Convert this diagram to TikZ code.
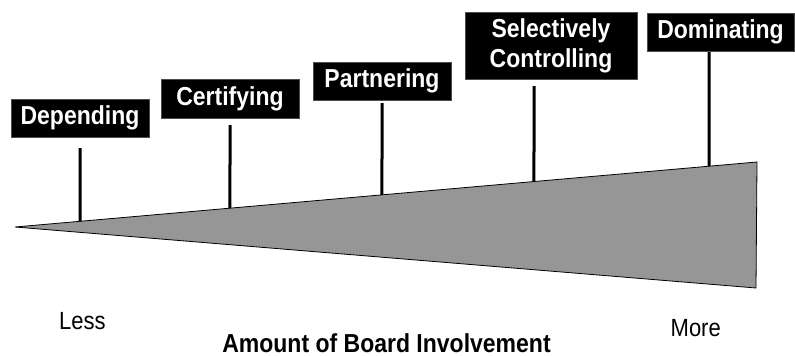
\documentclass[tikz,border=0pt]{standalone}
\usepackage{fontspec}
\usepackage{graphicx}
\setmainfont{Liberation Sans}
\usetikzlibrary{calc}
\definecolor{wedgegray}{RGB}{150,150,150}
% slightly taller lettering
\newcommand\talltext[1]{\scalebox{1}[1.13]{#1}}
\begin{document}
\begin{tikzpicture}[x=1pt,y=-1pt,
  stage/.style={fill=black,draw=black!70,line width=0.6pt,text=white,
    font=\fontsize{23}{30}\selectfont\bfseries,align=center,inner sep=0pt},
  pole/.style={line width=3pt,black},
  wedge/.style={fill=wedgegray,draw=black,line width=0.8pt,line join=miter},
  endlabel/.style={font=\fontsize{22}{26}\selectfont,inner sep=0pt},
  axislabel/.style={font=\fontsize{23}{28}\selectfont\bfseries,inner sep=0pt}]
  \useasboundingbox (0,0) rectangle (795,356);

  % wedge of increasing involvement
  \coordinate (apex) at (15,227);
  \coordinate (rtop) at (757,162);
  \coordinate (rbot) at (756,288);
  \draw[wedge] (apex) -- (rtop) -- (rbot) -- cycle;

  % stage labels
  \node[stage,minimum width=138pt,minimum height=38pt] (dep) at (80,118) {\talltext{Depending}};
  \node[stage,minimum width=138pt,minimum height=39pt] (cert) at (230,98.5) {\talltext{Certifying}};
  \node[stage,minimum width=138pt,minimum height=38pt] (part) at (382,81) {\talltext{Partnering}};
  \node[stage,minimum width=172pt,minimum height=67pt] (sel) at (551,45.5) {\talltext{Selectively}\\\talltext{Controlling}};
  \node[stage,minimum width=147pt,minimum height=38pt] (dom) at (720.5,32) {\talltext{Dominating}};

  % poles from each label down to the wedge
  \coordinate (depT) at (80,148);
  \coordinate (certT) at (230,125);
  \coordinate (partT) at (382,103);
  \coordinate (selT) at (534,86);
  \coordinate (domT) at (709,52);
  \coordinate (depB) at ($(apex)!{(80-15)/742}!(rtop)$);
  \coordinate (certB) at ($(apex)!{(230-15)/742}!(rtop)$);
  \coordinate (partB) at ($(apex)!{(382-15)/742}!(rtop)$);
  \coordinate (selB) at ($(apex)!{(534-15)/742}!(rtop)$);
  \coordinate (domB) at ($(apex)!{(709-15)/742}!(rtop)$);
  \draw[pole] (depT) -- (depB);
  \draw[pole] (certT) -- (certB);
  \draw[pole] (partT) -- (partB);
  \draw[pole] (selT) -- (selB);
  \draw[pole] (domT) -- (domB);

  % axis labels
  \node[endlabel,anchor=base west] (less) at (59,329) {\talltext{Less}};
  \node[endlabel,anchor=base east] (more) at (721,336) {\talltext{More}};
  \node[axislabel,anchor=base] (axis) at (386.5,352) {\talltext{Amount of Board Involvement}};
\end{tikzpicture}
\end{document}
